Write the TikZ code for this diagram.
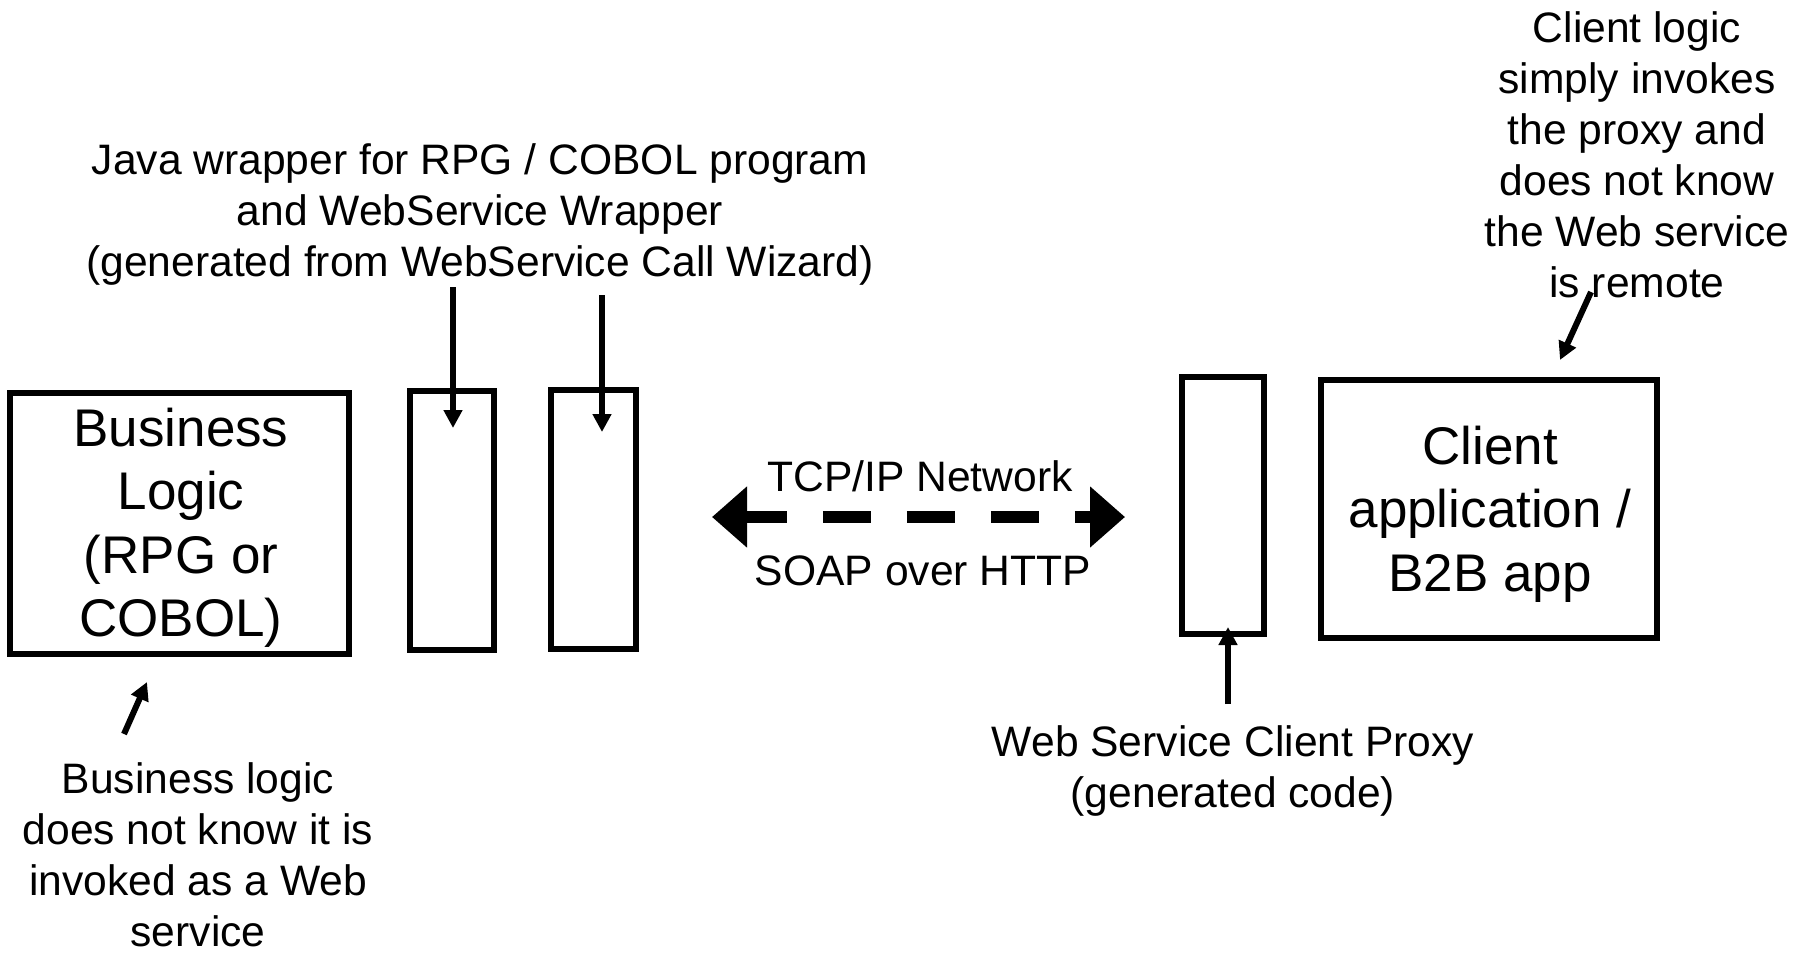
\documentclass[tikz,border=0pt]{standalone}
\usepackage{fontspec}
\setmainfont{Liberation Sans}
\usetikzlibrary{arrows.meta}
\tikzset{
  box/.style={draw=black, line width=6pt, inner sep=0pt, fill=white},
  big/.style={font=\fontsize{53}{63.5}\selectfont, align=center, inner sep=0pt},
  small/.style={font=\fontsize{42.6}{51}\selectfont, align=center, inner sep=0pt},
  ptr/.style={draw=black, line width=6pt, -{Triangle[length=18pt,width=18pt]}},
  net/.style={draw=black, line width=12pt, dash pattern=on 48pt off 36pt, dash phase=6pt,
    {Triangle[length=35pt,width=59pt]}-{Triangle[length=35pt,width=59pt]}}
}
\begin{document}
\begin{tikzpicture}[x=1pt,y=-1pt]
\useasboundingbox[fill=white] (0,0) rectangle (1804,953);
% boxes
\node[box, minimum width=339pt, minimum height=261pt] (bl) at (179.5,523.5) {};
\node[big] (blt) at (181,528) {Business\\Logic\\(RPG or\\COBOL)};
\node[box, minimum width=84pt, minimum height=259pt] (w1) at (452,520.5) {};
\node[box, minimum width=85pt, minimum height=259pt] (w2) at (593.5,519.5) {};
\node[box, minimum width=82pt, minimum height=257pt] (px) at (1223,505.5) {};
\node[box, minimum width=336pt, minimum height=258pt] (ca) at (1489,509) {};
\node[big] (cat) at (1490,514) {Client\\application /\\B2B app};
% texts
\node[small] (jw) at (480,214) {Java wrapper for RPG / COBOL program\\and WebService Wrapper\\(generated from WebService Call Wizard)};
\node[small] (bn) at (198,855) {Business logic\\does not know it is\\invoked as a Web\\service};
\node[small] (cn) at (1637,155) {Client logic\\simply invokes\\the proxy and\\does not know\\the Web service\\is remote};
\node[small] (pn) at (1233,771) {Web Service Client Proxy\\(generated code)};
\node[small] (tcp) at (920,476) {TCP/IP Network};
\node[small] (soap) at (923,571) {SOAP over HTTP};
% connector ends
\coordinate (a1s) at (453,287);
\coordinate (a1e) at (453,428);
\coordinate (a2s) at (602,295);
\coordinate (a2e) at (602,432);
\coordinate (a3s) at (1228,704);
\coordinate (a3e) at (1228,627);
\coordinate (a4s) at (1591,292);
\coordinate (a4e) at (1560,360);
\coordinate (a5s) at (124,734);
\coordinate (a5e) at (147,682);
\coordinate (nl) at (712,517);
\coordinate (nr) at (1125,517);
% connectors
\draw[ptr] (a1s) -- (a1e);
\draw[ptr] (a2s) -- (a2e);
\draw[ptr] (a3s) -- (a3e);
\draw[ptr] (a4s) -- (a4e);
\draw[ptr] (a5s) -- (a5e);
\draw[net] (nl) -- (nr);
\end{tikzpicture}
\end{document}
